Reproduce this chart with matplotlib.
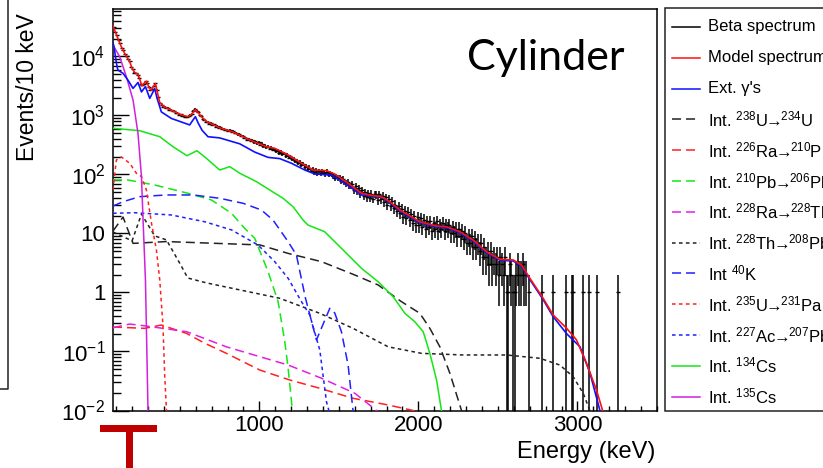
import numpy as np
import matplotlib
matplotlib.use("Agg")
import matplotlib.pyplot as plt
from matplotlib.lines import Line2D
from matplotlib.patches import Rectangle
from matplotlib.ticker import FixedLocator, FuncFormatter, LogLocator, MultipleLocator, NullFormatter

plt.rcParams['font.family'] = ['Liberation Sans', 'DejaVu Sans']
plt.rcParams['mathtext.fontset'] = 'custom'
plt.rcParams['mathtext.rm'] = 'Liberation Sans'
plt.rcParams['mathtext.it'] = 'Liberation Sans:italic'
plt.rcParams['mathtext.bf'] = 'Liberation Sans:bold'
plt.rcParams['mathtext.sf'] = 'Liberation Sans'
plt.rcParams['lines.scale_dashes'] = False

# ---------------- measured beta spectrum (events per 10 keV bin) ----------------
beta_first_bin = 85          # centre of first bin (keV)
beta_bin_width = 10
beta_counts = [
    31200, 26000, 22700, 19300, 16900, 13900, 12800, 11000, 10200, 9000,
    8300, 6650, 6100, 5300, 5200, 4950, 4400, 3400, 3300, 3450,
    3780, 3580, 3050, 2700, 2800, 3130, 3500, 2720, 2030, 1600,
    1530, 1420, 1400, 1330, 1340, 1240, 1250, 1180, 1190, 1100,
    1120, 1030, 1040, 985, 990, 960, 940, 970, 1010, 1050,
    1190, 1280, 1210, 1130, 1000, 970, 870, 845, 780, 775,
    725, 740, 695, 705, 650, 660, 615, 630, 590, 600,
    565, 575, 540, 560, 525, 540, 500, 510, 480, 485,
    445, 450, 415, 420, 390, 400, 370, 385, 350, 365,
    340, 350, 320, 335, 300, 310, 288, 297, 275, 283,
    262, 270, 250, 252, 233, 241, 222, 230, 207, 216,
    194, 203, 180, 185, 168, 172, 156, 161, 146, 150,
    133, 140, 126, 131, 115, 122, 110, 117, 106, 115,
    104, 113, 108, 101, 112, 99, 106, 101, 93, 88,
    92, 88, 90, 78, 84, 75, 71, 74, 66, 64,
    68, 55, 63, 52, 58, 47, 54, 44, 50, 41,
    48, 40, 47, 39, 46, 45, 37, 46, 38, 44,
    34, 41, 31, 38, 29, 35, 27, 31, 24, 29,
    22, 26, 19, 24, 18, 23, 17, 21, 15, 20,
    14, 19, 14, 18, 13, 17, 12, 16, 13, 16,
    11, 15, 12, 16, 11, 14, 12, 15, 11, 14,
    12, 14, 10, 13, 10, 12, 9, 12, 9, 11,
    8, 10, 7, 9, 7, 9, 6, 8, 6, 7,
    5, 7, 4, 6, 4, 5, 3, 5, 3, 4,
    3, 4, 2, 4, 3, 2, 4, 1,
]
# sparse high-energy tail (non-empty bins only)
tail_E = [2565, 2575, 2585, 2595, 2605, 2615, 2625, 2635, 2645, 2655, 2665, 2675,
          2695, 2775, 2845, 2925, 2965, 2975, 3035, 3075, 3125, 3255]
tail_counts = [1, 3, 2, 1, 1, 2, 3, 2, 2, 3, 2, 2, 1, 1, 1, 1, 1, 1, 1, 1, 1, 1]

# ---------------- fitted model and its components ----------------
model_E = [80, 100, 130, 154, 185, 200, 216, 237, 250, 262, 280, 292, 305, 320, 335, 347,
           360, 374, 400, 447, 510, 552, 575, 598, 615, 636, 667, 751, 835, 940, 1045,
           1097, 1181, 1265, 1338, 1422, 1474, 1558, 1642, 1694, 1768, 1820, 1883, 2009,
           2114, 2177, 2261, 2344, 2428, 2512, 2596, 2649, 2701, 2784, 2847, 2932, 2994,
           3057, 3120, 3158, 3170]
model_v = [33100, 24000, 15100, 11200, 8130, 6310, 5370, 5010, 3980, 3160, 3630, 3800,
           3020, 2690, 3160, 3470, 2400, 1660, 1410, 1230, 1020, 955, 1050, 1260, 1120,
           955, 794, 617, 525, 385, 295, 278, 214, 155, 119, 116, 102, 71, 48, 45, 42,
           34.7, 25.1, 15.8, 13.4, 13.0, 10.7, 7.76, 4.92, 3.66, 3.56, 2.92, 1.74, 0.80,
           0.416, 0.247, 0.157, 0.063, 0.022, 0.010, 0.0063]

extg_E = [80, 88, 95, 104, 111, 143, 174, 206, 222, 237, 259, 284, 311, 328, 342, 356,
          384, 447, 531, 562, 582, 598, 616, 640, 677, 751, 877, 971, 1055, 1128, 1202,
          1286, 1349, 1454, 1537, 1642, 1768, 1820, 1883, 2009, 2114, 2177, 2261, 2344,
          2428, 2512, 2596, 2649, 2701, 2784, 2847, 2932, 3016, 3079, 3141, 3150]
extg_v = [17100, 14100, 10000, 7080, 5890, 5190, 3980, 2880, 3240, 3630, 2510, 3090,
          1950, 2400, 2880, 2000, 1150, 891, 741, 692, 832, 955, 740, 562, 437, 417,
          331, 240, 195, 186, 155, 119, 102, 98, 71, 45, 41.5, 33.4, 24.1, 15.2, 12.9,
          12.5, 10.3, 7.45, 4.72, 3.52, 3.42, 2.80, 1.65, 0.76, 0.39, 0.20, 0.12, 0.043,
          0.010, 0.006]

u238_E = [80, 143, 206, 416, 1003, 1181, 1391, 1600, 1747, 1894, 2009, 2072, 2135, 2198, 2271, 2280]
u238_v = [11, 19, 6.8, 7.3, 6.4, 4.6, 3.33, 1.98, 1.34, 0.698, 0.444, 0.247, 0.12, 0.0427, 0.010, 0.007]

ra226_E = [80, 279, 384, 542, 657, 793, 1003, 1191, 1380, 1589, 1810, 1967, 2100]
ra226_v = [0.26, 0.247, 0.281, 0.203, 0.138, 0.093, 0.0485, 0.0329, 0.0238, 0.0161, 0.0124, 0.010, 0.0075]

pb210_E = [80, 174, 342, 552, 699, 825, 908, 971, 1055, 1118, 1160, 1181, 1208, 1212]
pb210_v = [80.7, 80.7, 66.4, 48, 37, 22, 12.2, 8.3, 2.25, 0.698, 0.147, 0.0519, 0.010, 0.007]

ra228_E = [80, 185, 290, 542, 793, 1003, 1181, 1391, 1600, 1737, 1760]
ra228_v = [0.253, 0.292, 0.27, 0.217, 0.12, 0.0817, 0.059, 0.0352, 0.0196, 0.010, 0.008]

th228_E = [80, 200, 259, 342, 416, 506, 550, 670, 1128, 1380, 1589, 1810, 2020, 2281,
           2554, 2764, 2889, 2973, 3036, 3078, 3085]
th228_v = [10.6, 7.5, 21.4, 9.1, 7.8, 2.92, 1.76, 1.45, 0.798, 0.444, 0.247, 0.12, 0.093,
           0.0873, 0.0873, 0.0767, 0.059, 0.0374, 0.0196, 0.010, 0.007]

k40_E = [80, 143, 248, 416, 583, 751, 898, 1013, 1086, 1181, 1233, 1290, 1325, 1359,
         1443, 1474, 1516, 1558, 1589, 1595]
k40_v = [29.2, 34.6, 42.1, 45, 45, 39.5, 32.5, 25, 16.9, 7.26, 4.33, 0.8, 0.35, 0.157,
         0.54, 0.45, 0.217, 0.059, 0.010, 0.006]

u235_E = [80, 101, 133, 185, 227, 259, 290, 322, 353, 374, 394, 405, 416, 420]
u235_v = [55, 176, 198, 155, 105, 92, 54.6, 14.9, 5.25, 1.63, 0.28, 0.04, 0.010, 0.005]

ac227_E = [80, 216, 447, 657, 825, 992, 1097, 1181, 1265, 1317, 1380, 1422, 1437, 1442]
ac227_v = [22, 22.5, 20.6, 15.8, 11.5, 6.38, 3.33, 1.74, 0.698, 0.416, 0.106, 0.0141, 0.010, 0.006]

cs134_E = [80, 248, 374, 457, 545, 608, 667, 751, 814, 877, 982, 1149, 1212, 1275, 1306,
           1411, 1516, 1642, 1747, 1841, 1915, 1977, 2030, 2072, 2114, 2145, 2150]
cs134_v = [607, 552, 437, 296, 208, 253, 188, 119, 136, 105, 75.5, 39.5, 28.4, 16.9, 13.9,
           10.7, 5.61, 2.57, 1.52, 0.85, 0.444, 0.32, 0.217, 0.093, 0.033, 0.010, 0.006]

cs135_E = [80, 122, 164, 206, 237, 259, 269, 284, 290, 300, 303]
cs135_v = [15500, 9930, 4550, 1830, 499, 92, 17, 1.63, 0.25, 0.010, 0.005]

ARROW = r'$\!\!\rightarrow\!\!$'
legend_labels = [
    "Beta spectrum", "Model spectrum", "Ext. \u03b3's",
    "Int. $^{238}$U" + ARROW + "$^{234}$U", "Int. $^{226}$Ra" + ARROW + "$^{210}$Pb",
    "Int. $^{210}$Pb" + ARROW + "$^{206}$Pb", "Int. $^{228}$Ra" + ARROW + "$^{228}$Th",
    "Int. $^{228}$Th" + ARROW + "$^{208}$Pb", "Int $^{40}$K",
    "Int. $^{235}$U" + ARROW + "$^{231}$Pa", "Int. $^{227}$Ac" + ARROW + "$^{207}$Pb",
    "Int. $^{134}$Cs", "Int. $^{135}$Cs",
]

# ---------------- styles ----------------
GREEN = '#14e614'
LONG = (6.5, 3.6)
SHORT = (2.6, 2.4)
LW = 1.1

W, H = 823, 468
fig = plt.figure(figsize=(W / 100, H / 100), dpi=100)


def fx(px):
    return px / W


def fy(py):
    return 1 - py / H


ax = fig.add_axes([fx(113), fy(410.5), fx(657) - fx(113), fy(9) - fy(410.5)])
ax.set_xscale('linear')
ax.set_yscale('log')
ax.set_xlim(80, 3500)
ax.set_ylim(1e-2, 10 ** 4.805)

# data points with Poisson error bars
beta_E = beta_first_bin + beta_bin_width * np.arange(len(beta_counts))
E_all = np.concatenate([beta_E, np.array(tail_E)])
N_all = np.concatenate([np.array(beta_counts, float), np.array(tail_counts, float)])
err = np.sqrt(N_all)
lo = np.where(N_all - err > 0, N_all - err, 1e-4)
hi = N_all + err
ax.vlines(E_all, lo, hi, color='black', lw=1.1, zorder=2)
ax.plot(E_all, N_all, ls='none', marker='_', ms=3, mew=1.0, color='black', zorder=2)

components = [
    (u238_E, u238_v, '#222222', LONG),
    (ra226_E, ra226_v, '#ff2020', LONG),
    (pb210_E, pb210_v, GREEN, LONG),
    (ra228_E, ra228_v, '#e020e0', LONG),
    (th228_E, th228_v, '#222222', SHORT),
    (k40_E, k40_v, '#2020ff', LONG),
    (u235_E, u235_v, '#ff2020', SHORT),
    (ac227_E, ac227_v, '#2020ff', SHORT),
    (cs134_E, cs134_v, GREEN, None),
    (cs135_E, cs135_v, '#d020e0', None),
]
for E, v, c, d in components:
    line, = ax.plot(E, v, color=c, lw=LW, zorder=3)
    if d is not None:
        line.set_dashes(d)

ax.plot(extg_E, extg_v, color='#1010ff', lw=1.2, zorder=4)
ax.plot(model_E, model_v, color='#ff1010', lw=1.2, zorder=5)

# axes decoration
for s in ax.spines.values():
    s.set_linewidth(1.1)
ax.xaxis.set_major_locator(FixedLocator([1000, 2000, 3000]))
ax.xaxis.set_minor_locator(MultipleLocator(100))
ax.yaxis.set_major_locator(FixedLocator([1e-2, 1e-1, 1, 10, 1e2, 1e3, 1e4]))
ax.yaxis.set_minor_locator(LogLocator(base=10, subs=np.arange(2, 10), numticks=30))
ax.yaxis.set_minor_formatter(NullFormatter())

ylabels = {-2: r'$\mathregular{10^{-2}}$', -1: r'$\mathregular{10^{-1}}$', 0: '1', 1: '10',
           2: r'$\mathregular{10^{2}}$', 3: r'$\mathregular{10^{3}}$', 4: r'$\mathregular{10^{4}}$'}
ax.yaxis.set_major_formatter(FuncFormatter(lambda v, p: ylabels.get(int(round(np.log10(v))), '')))
ax.xaxis.set_major_formatter(FuncFormatter(lambda v, p: '%d' % v))

ax.tick_params(axis='both', which='both', direction='in', top=False, right=False,
               labelsize=16, width=1.0, colors='black')
ax.tick_params(axis='y', which='major', length=11.5, pad=5.5)
ax.tick_params(axis='y', which='minor', length=5.8)
ax.tick_params(axis='x', which='major', length=7, pad=3)
ax.tick_params(axis='x', which='minor', length=3.6)

fig.text(fx(655), fy(452), 'Energy (keV)', ha='right', va='center', fontsize=17)
fig.text(fx(28), fy(13), 'Events/10 keV', rotation=90, ha='center', va='top', fontsize=16.5)
fig.text(fx(467), fy(70), 'Cylinder', ha='left', va='baseline', fontsize=31,
         family=['Lato', 'DejaVu Sans'])

# legend box
fig.add_artist(Rectangle((fx(665), fy(411)), fx(990) - fx(665), fy(8) - fy(411),
                         transform=fig.transFigure, facecolor='white', edgecolor='#222222',
                         lw=1.1, zorder=1))
legend_styles = [
    ('black', None), ('#ff1010', None), ('#1010ff', None),
    ('#222222', LONG), ('#ff2020', LONG), (GREEN, LONG), ('#e020e0', LONG),
    ('#222222', SHORT), ('#2020ff', LONG), ('#ff2020', SHORT), ('#2020ff', SHORT),
    (GREEN, None), ('#d020e0', None),
]
for i, (lab, (c, d)) in enumerate(zip(legend_labels, legend_styles)):
    yc = 27 + i * 30.8
    ln = Line2D([fx(672), fx(700)], [fy(yc), fy(yc)], color=c, lw=LW,
                transform=fig.transFigure, zorder=2)
    if d is not None:
        ln.set_dashes(d)
    fig.add_artist(ln)
    fig.text(fx(708), fy(yc), lab, ha='left', va='center', fontsize=12, zorder=3)

# neighbouring panel frame on the left
fig.add_artist(Line2D([fx(8), fx(8), fx(-5)], [fy(-5), fy(389), fy(389)], color='#222222',
                      lw=1.1, transform=fig.transFigure))

# red marker below the axis
fig.add_artist(Rectangle((fx(100), fy(432)), fx(157) - fx(100), fy(425) - fy(432),
                         transform=fig.transFigure, color='#c00000', lw=0))
fig.add_artist(Rectangle((fx(126), fy(470)), fx(133) - fx(126), fy(431) - fy(470),
                         transform=fig.transFigure, color='#c00000', lw=0))

fig.savefig('out.png', dpi=100)
